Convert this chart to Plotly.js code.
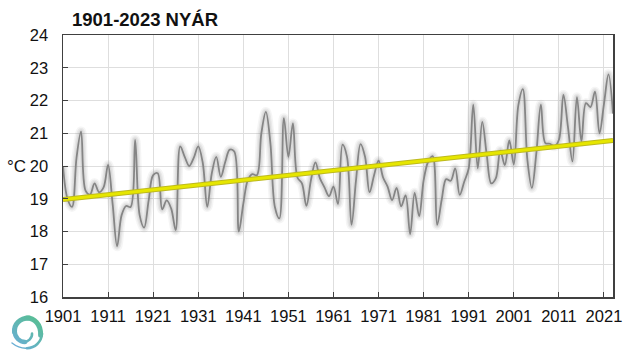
<!DOCTYPE html>
<html>
<head>
<meta charset="utf-8">
<script src="https://cdn.plot.ly/plotly-3.0.1.min.js"></script>
<style>html,body{margin:0;padding:0;background:#fff;overflow:hidden}</style>
</head>
<body>
<div id="chart" style="width:640px;height:357px"></div>
<script>
const years = [];
for (let y = 1901; y <= 2023; y++) years.push(y);

const temperature = [
  20.00,19.00,18.75,20.25,21.05,19.25,19.13,19.47,19.20,19.35,
  20.03,18.85,17.55,18.50,18.78,18.75,20.80,18.50,18.12,18.95,
  19.72,19.78,18.68,18.95,18.70,18.04,20.60,20.28,20.00,20.25,
  20.60,20.10,18.75,19.77,20.28,19.67,20.13,20.50,20.44,18.00,
  18.85,19.57,19.75,19.72,21.00,21.65,20.70,18.75,18.40,21.46,
  20.28,21.30,19.65,19.47,18.78,19.57,20.11,19.62,19.35,19.08,
  19.37,18.84,20.65,20.28,18.20,19.57,20.67,20.28,19.20,19.72,
  20.16,19.65,19.37,18.96,19.33,18.77,19.10,17.92,19.18,18.47,
  19.57,20.13,20.30,18.20,18.97,19.60,19.55,19.93,19.12,19.52,
  19.93,21.87,19.93,21.35,20.33,19.47,19.62,20.47,20.03,20.78,
  20.05,21.85,22.35,20.20,19.33,20.40,21.87,20.70,20.68,20.60,
  20.80,22.17,21.20,20.14,22.10,20.75,21.92,21.80,22.27,21.00,
  21.90,22.80,21.60
];

const trendYears = [1901, 2023];
const trendValues = [18.98, 20.78];

const xTicks = [1901,1911,1921,1931,1941,1951,1961,1971,1981,1991,2001,2011,2021];
const yTicks = [16,17,18,19,20,21,22,23,24];
const chartTitle = "1901-2023 NYÁR";
const unitLabel = "°C";

const font = "Liberation Sans, Arial, sans-serif";

function series(x, y, color, width, spline) {
  return {
    x: x, y: y, type: "scatter", mode: "lines", hoverinfo: "skip", showlegend: false,
    line: {color: color, width: width, shape: spline ? "spline" : "linear", smoothing: spline ? 1 : 0}
  };
}

const traces = [
  series(years, temperature, "rgba(120,120,120,0.07)", 10, true),
  series(years, temperature, "rgba(120,120,120,0.10)", 7, true),
  series(years, temperature, "rgba(120,120,120,0.12)", 4.5, true),
  series(years, temperature, "#858585", 1.8, true),
  series(trendYears, trendValues, "#bdb91e", 5, false),
  series(trendYears, trendValues, "#e6e600", 3, false)
];

const logo = 'data:image/svg+xml;utf8,' + encodeURIComponent(
  '<svg xmlns="http://www.w3.org/2000/svg" width="40" height="40" viewBox="0 0 40 40">' +
  '<defs><linearGradient id="g" gradientUnits="userSpaceOnUse" x1="32" y1="4" x2="6" y2="36">' +
  '<stop offset="0" stop-color="#55c08a"/><stop offset="1" stop-color="#6aaed6"/></linearGradient></defs>' +
  '<g fill="none" stroke="url(#g)" stroke-linecap="round">' +
  '<path d="M3 33 C8 37 14 39 20 38" stroke-width="1.4"/>' +
  '<path d="M18 38.2 C26 38 32.5 32 33 23.5" stroke-width="2.6"/>' +
  '<path d="M31.6 25 C32 14 25 8 18 8" stroke-width="5"/>' +
  '<path d="M20 8 C11 8 5 14 5.5 22" stroke-width="5"/>' +
  '<path d="M5.5 20 C5.5 28 11 32 16 32" stroke-width="4.5"/>' +
  '<path d="M14 32 C19 32.5 23.5 28 23 23.5" stroke-width="2.6"/>' +
  '</g></svg>'
);

const layout = {
  width: 640, height: 357, autosize: false,
  paper_bgcolor: "#fff", plot_bgcolor: "#fff",
  margin: {l: 63, r: 27, t: 35, b: 60, pad: 0},
  font: {family: font, color: "#111", size: 16},
  title: {
    text: "<b>" + chartTitle + "</b>",
    x: 72 / 640, xanchor: "left", xref: "container",
    y: 1 - 20 / 357, yanchor: "middle", yref: "container",
    font: {family: font, size: 18.5, color: "#111"}
  },
  xaxis: {
    range: [1901, 2023], tickmode: "array", tickvals: xTicks, ticktext: xTicks.map(String),
    ticks: "inside", ticklen: 5, tickwidth: 1, tickcolor: "#404040",
    ticklabelstandoff: 4,
    showgrid: true, gridcolor: "#dedede", gridwidth: 1, zeroline: false,
    showline: true, linecolor: "#404040", linewidth: 1.5, mirror: true,
    tickfont: {family: font, size: 16.5, color: "#111"}, tickangle: 0
  },
  yaxis: {
    range: [16, 24], tickmode: "array", tickvals: yTicks, ticktext: yTicks.map(String),
    ticks: "inside", ticklen: 5, tickwidth: 1, tickcolor: "#404040",
    ticklabelstandoff: 10,
    showgrid: true, gridcolor: "#dedede", gridwidth: 1, zeroline: false,
    showline: true, linecolor: "#404040", linewidth: 1.5, mirror: true,
    tickfont: {family: font, size: 16.5, color: "#111"}
  },
  annotations: [{
    text: unitLabel, xref: "paper", yref: "paper", showarrow: false,
    x: (16 - 63) / 550, xanchor: "center",
    y: (297 - 166) / 262, yanchor: "middle",
    font: {family: font, size: 17, color: "#111"}
  }],
  images: [{
    source: logo, xref: "paper", yref: "paper", layer: "above",
    x: (9 - 63) / 550, y: (297 - 310) / 262, sizex: 40 / 550, sizey: 40 / 262,
    xanchor: "left", yanchor: "top", sizing: "stretch"
  }]
};

Plotly.newPlot("chart", traces, layout, {displayModeBar: false, staticPlot: true});
</script>
</body>
</html>
